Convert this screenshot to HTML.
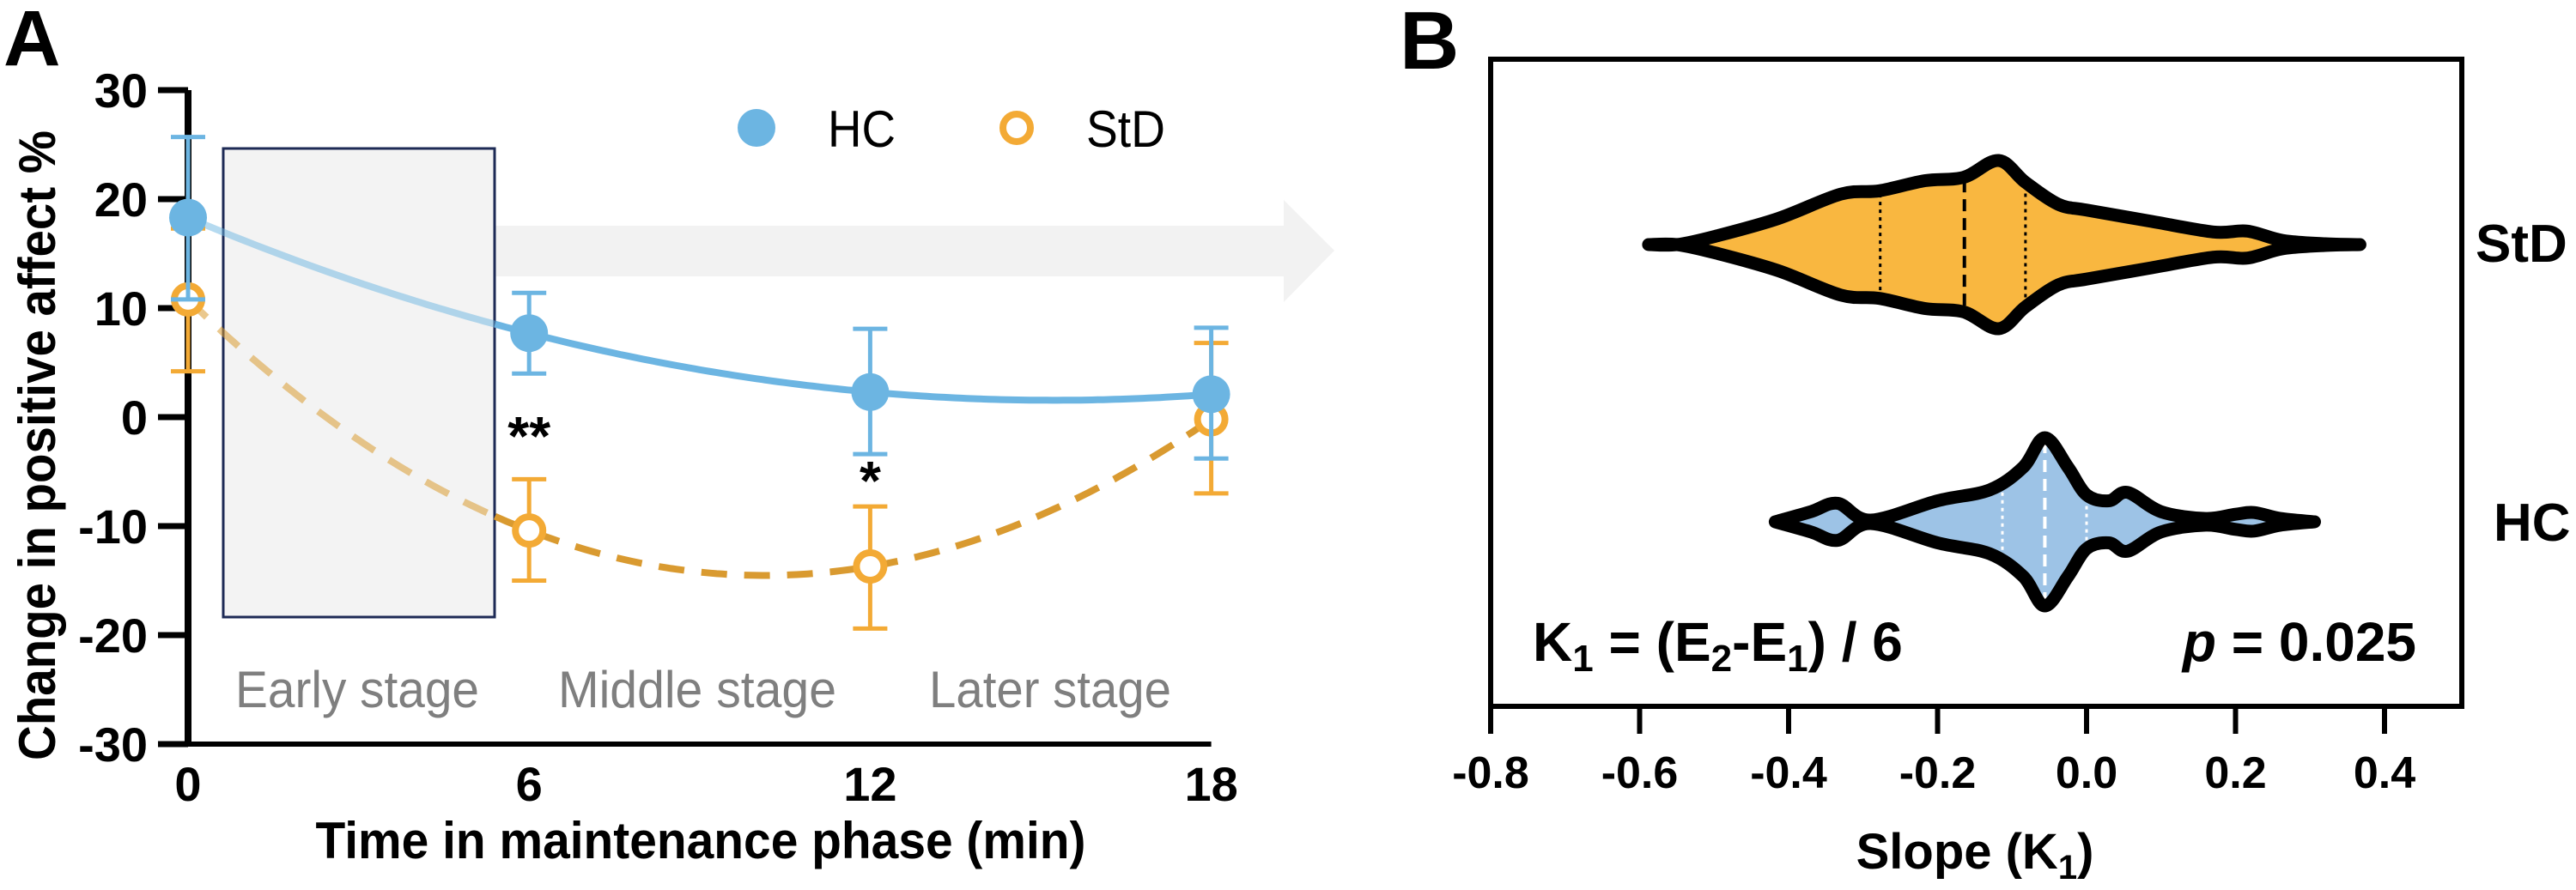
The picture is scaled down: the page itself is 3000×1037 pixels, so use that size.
<!DOCTYPE html>
<html><head><meta charset="utf-8"><style>
html,body{margin:0;padding:0;background:#fff;}
svg{display:block;}
text{font-family:"Liberation Sans",Arial,sans-serif;}
.nar{font-family:"Liberation Sans Narrow","Liberation Sans",sans-serif;}
</style></head><body>
<svg id="chart" width="3000" height="1037" viewBox="0 0 3000 1037" xmlns="http://www.w3.org/2000/svg">
<g id="panelA"></g>
<g id="panelB"></g>
</svg>
<script>
// ---------- Panel A data ----------
const timePoints = [0, 6, 12, 18];
const hcMeans = [18.3, 7.7, 2.3, 2.1];
const hcUpper = [25.7, 11.4, 8.1, 8.2];
const hcLower = [10.8, 4.0, -3.4, -3.8];
const stdMeans = [10.8, -10.4, -13.7, -0.2];
const stdUpper = [17.3, -5.7, -8.2, 6.8];
const stdLower = [4.2, -15.0, -19.4, -7.0];
const yTicksA = [30, 20, 10, 0, -10, -20, -30];
const xTicksA = [0, 6, 12, 18];
const sigLabels = ['', '**', '*', ''];

// ---------- Panel B data ----------
const xTicksB = [-0.8, -0.6, -0.4, -0.2, 0.0, 0.2, 0.4];
const stdKdeX = [-0.588, -0.55, -0.498, -0.414, -0.33, -0.278, -0.217, -0.165, -0.118, -0.082, -0.038, 0.0, 0.085, 0.17, 0.216, 0.263, 0.32, 0.367];
const stdKdeD = [0.0, 0.0, 0.10, 0.31, 0.60, 0.64, 0.76, 0.80, 1.0, 0.74, 0.48, 0.41, 0.28, 0.15, 0.16, 0.05, 0.01, 0.0];
const stdQuart = [-0.277, -0.164, -0.082];
const hcKdeX = [-0.418, -0.37, -0.334, -0.29, -0.2, -0.13, -0.085, -0.056, -0.025, 0.0, 0.03, 0.055, 0.1, 0.16, 0.2, 0.225, 0.26, 0.306];
const hcKdeD = [0.0, 0.12, 0.22, 0.02, 0.25, 0.38, 0.65, 1.0, 0.65, 0.32, 0.25, 0.35, 0.12, 0.04, 0.09, 0.11, 0.04, 0.0];
const hcQuart = [-0.113, -0.056, 0.0];

const NS = 'http://www.w3.org/2000/svg';
function mk(parent, tag, attrs, txt){
  const e = document.createElementNS(NS, tag);
  for (const k in attrs) e.setAttribute(k, attrs[k]);
  if (txt !== undefined) e.textContent = txt;
  parent.appendChild(e);
  return e;
}
const A = document.getElementById('panelA');
const B = document.getElementById('panelB');

// axes A
const xA = t => 219 + t * 66.2;
const yA = v => 486 - v * 12.7;
const HC = '#6cb5e2', STD = '#f3aa35', STDLINE = '#d99a30';

let e;
// arrow band behind
e = mk(A, 'path', {d:'M576 263 L1495 263 L1495 233 L1554 292 L1495 352 L1495 322 L576 322 Z', fill:'#f2f2f2'});


// early stage box
e = mk(A, 'rect', {x:260, y:173, width:316, height:546, fill:'#f3f3f3', stroke:'#1d2a55', 'stroke-width':3});



// stage labels
const stages = [['Early stage', 274, 284], ['Middle stage', 650, 324], ['Later stage', 1082, 282]];
stages.forEach(s => {
  e = mk(A, 'text', {x:s[1], y:824, 'font-size':60, fill:'#7f7f7f', textLength:s[2], lengthAdjust:'spacingAndGlyphs'}, s[0]);
  
  
});

// axis lines
e = mk(A, 'line', {x1:219, y1:yA(30), x2:219, y2:yA(-30)+3, stroke:'#000', 'stroke-width':8});


e = mk(A, 'line', {x1:215, y1:yA(-30), x2:xA(18), y2:yA(-30), stroke:'#000', 'stroke-width':6});


yTicksA.forEach(v => {
  e = mk(A, 'line', {x1:184, y1:yA(v), x2:219, y2:yA(v), stroke:'#000', 'stroke-width':7});
  
  
  e = mk(A, 'text', {x:172, y:yA(v)+20, 'font-size':56, 'font-weight':'bold', 'text-anchor':'end'}, String(v));
  
  
});
xTicksA.forEach(t => {
  e = mk(A, 'text', {x:xA(t), y:933, 'font-size':56, 'font-weight':'bold', 'text-anchor':'middle'}, String(t));
  
  
});
e = mk(A, 'text', {x:816, y:1000, 'font-size':60, 'font-weight':'bold', 'text-anchor':'middle', textLength:897, lengthAdjust:'spacingAndGlyphs'}, 'Time in maintenance phase (min)');


e = mk(A, 'text', {x:0, y:0, 'font-size':60, 'font-weight':'bold', 'text-anchor':'middle', transform:'translate(64,519) rotate(-90)', textLength:734, lengthAdjust:'spacingAndGlyphs'}, 'Change in positive affect %');


e = mk(A, 'text', {x:4, y:76, 'font-size':92, 'font-weight':'bold'}, 'A');



// cubic interpolating fit
function lagrange(xs, ys, t){
  let s = 0;
  for (let i = 0; i < xs.length; i++){
    let l = 1;
    for (let j = 0; j < xs.length; j++) if (j !== i) l *= (t - xs[j]) / (xs[i] - xs[j]);
    s += l * ys[i];
  }
  return s;
}
function curvePath(ys, t0, t1){
  let d = '';
  for (let t = t0; t <= t1 + 1e-9; t += 0.1){
    d += (d ? 'L' : 'M') + xA(t).toFixed(1) + ' ' + yA(lagrange(timePoints, ys, t)).toFixed(1);
  }
  return d;
}
const fadeT = 5.4, endT = 18;
// StD curve
e = mk(A, 'path', {d:curvePath(stdMeans, 0, fadeT), fill:'none', stroke:STDLINE, 'stroke-width':8, 'stroke-dasharray':'30 20', opacity:0.55});


e = mk(A, 'path', {d:curvePath(stdMeans, fadeT, endT), fill:'none', stroke:STDLINE, 'stroke-width':8, 'stroke-dasharray':'30 20'});


// HC curve
e = mk(A, 'path', {d:curvePath(hcMeans, 0, fadeT), fill:'none', stroke:HC, 'stroke-width':8, opacity:0.5});


e = mk(A, 'path', {d:curvePath(hcMeans, fadeT, endT), fill:'none', stroke:HC, 'stroke-width':8});



function errBar(t, lo, hi, col, name){
  const g = mk(A, 'g', {});
  
  
  mk(g, 'line', {x1:xA(t), y1:yA(hi), x2:xA(t), y2:yA(lo), stroke:col, 'stroke-width':5});
  mk(g, 'line', {x1:xA(t)-20, y1:yA(hi), x2:xA(t)+20, y2:yA(hi), stroke:col, 'stroke-width':5});
  mk(g, 'line', {x1:xA(t)-20, y1:yA(lo), x2:xA(t)+20, y2:yA(lo), stroke:col, 'stroke-width':5});
}
timePoints.forEach((t, i) => {
  errBar(t, stdLower[i], stdUpper[i], STD, 'std-error-bar');
  e = mk(A, 'circle', {cx:xA(t), cy:yA(stdMeans[i]), r:16, fill:'#fff', stroke:STD, 'stroke-width':8});
  
  
});
timePoints.forEach((t, i) => {
  errBar(t, hcLower[i], hcUpper[i], HC, 'hc-error-bar');
  e = mk(A, 'circle', {cx:xA(t), cy:yA(hcMeans[i]), r:22, fill:HC});
  
  
});
timePoints.forEach((t, i) => {
  if (!sigLabels[i]) return;
  const yy = sigLabels[i] === '**' ? 530 : 582;
  e = mk(A, 'text', {x:xA(t), y:yy, 'font-size':64, 'font-weight':'bold', 'text-anchor':'middle'}, sigLabels[i]);
  
  
});
// legend
e = mk(A, 'circle', {cx:881, cy:149, r:22, fill:HC});


e = mk(A, 'text', {x:964, y:171, 'font-size':60, textLength:79, lengthAdjust:'spacingAndGlyphs'}, 'HC');


e = mk(A, 'circle', {cx:1184, cy:149, r:16, fill:'#fff', stroke:STD, 'stroke-width':8});


e = mk(A, 'text', {x:1265, y:171, 'font-size':60, textLength:92, lengthAdjust:'spacingAndGlyphs'}, 'StD');



// ---------- Panel B ----------
const xB = v => 1736 + (v + 0.8) * 867.5;
const HW = 98;
e = mk(B, 'text', {x:1630, y:80, 'font-size':96, 'font-weight':'bold'}, 'B');


e = mk(B, 'rect', {x:1736, y:69, width:1131, height:754, fill:'none', stroke:'#000', 'stroke-width':6});


xTicksB.forEach(v => {
  e = mk(B, 'line', {x1:xB(v), y1:823, x2:xB(v), y2:855, stroke:'#000', 'stroke-width':6});
  
  
  e = mk(B, 'text', {x:xB(v), y:918, 'font-size':52, 'font-weight':'bold', 'text-anchor':'middle', 'class':'nar'}, v.toFixed(1));
  
  
});
e = mk(B, 'text', {x:2300, y:1012, 'font-size':58, 'font-weight':'bold', 'text-anchor':'middle', 'class':'nar'});


e.innerHTML = 'Slope (K<tspan dy="12" font-size="40">1</tspan><tspan dy="-12">)</tspan>';

function dens(xs, ds, v){
  for (let i = 0; i < xs.length - 1; i++){
    if (v >= xs[i] && v <= xs[i+1]) return ds[i] + (ds[i+1]-ds[i]) * (v - xs[i]) / (xs[i+1]-xs[i]);
  }
  return 0;
}
function smooth(pts){
  let d = 'M' + pts[0][0].toFixed(1) + ' ' + pts[0][1].toFixed(1);
  for (let i = 0; i < pts.length - 1; i++){
    const p0 = pts[Math.max(0,i-1)], p1 = pts[i], p2 = pts[i+1], p3 = pts[Math.min(pts.length-1,i+2)];
    const c1 = [p1[0] + (p2[0]-p0[0])/6, p1[1] + (p2[1]-p0[1])/6];
    const c2 = [p2[0] - (p3[0]-p1[0])/6, p2[1] - (p3[1]-p1[1])/6];
    d += 'C' + c1[0].toFixed(1)+' '+c1[1].toFixed(1)+' '+c2[0].toFixed(1)+' '+c2[1].toFixed(1)+' '+p2[0].toFixed(1)+' '+p2[1].toFixed(1);
  }
  return d;
}
function violin(xs, ds, quart, cy, fill, qcol, name){
  const g = mk(B, 'g', {});
  
  
  const top = xs.map((v, i) => [xB(v), cy - ds[i] * HW]);
  const bot = xs.map((v, i) => [xB(v), cy + ds[i] * HW]).reverse();
  const d = smooth(top) + smooth(bot).replace('M', 'L') + 'Z';
  mk(g, 'path', {d:d, fill:fill, stroke:'none'});
  quart.forEach((q, i) => {
    const h = dens(xs, ds, q) * HW - 4;
    mk(g, 'line', {x1:xB(q), y1:cy - h, x2:xB(q), y2:cy + h, stroke:qcol, 'stroke-width':i === 1 ? 4 : 3, 'stroke-dasharray':i === 1 ? '14 8' : '4 5'});
  });
  mk(g, 'path', {d:d, fill:'none', stroke:'#000', 'stroke-width':15, 'stroke-linejoin':'round', 'stroke-linecap':'round'});
}
violin(stdKdeX, stdKdeD, stdQuart, 285, '#f9b740', '#000', 'violin-std');
violin(hcKdeX, hcKdeD, hcQuart, 608, '#9dc3e6', '#fff', 'violin-hc');

e = mk(B, 'text', {x:2883, y:305, 'font-size':62, 'font-weight':'bold', 'class':'nar'}, 'StD');


e = mk(B, 'text', {x:2904, y:630, 'font-size':62, 'font-weight':'bold', 'class':'nar'}, 'HC');



e = mk(B, 'text', {x:1785, y:770, 'font-size':64, 'font-weight':'bold', 'class':'nar'});


e.innerHTML = 'K<tspan dy="12" font-size="44">1</tspan><tspan dy="-12"> = (E</tspan><tspan dy="12" font-size="44">2</tspan><tspan dy="-12">-E</tspan><tspan dy="12" font-size="44">1</tspan><tspan dy="-12">) / 6</tspan>';
e = mk(B, 'text', {x:2814, y:770, 'font-size':64, 'font-weight':'bold', 'text-anchor':'end', 'class':'nar'});


e.innerHTML = '<tspan font-style="italic">p</tspan> = 0.025';
</script>
</body></html>
